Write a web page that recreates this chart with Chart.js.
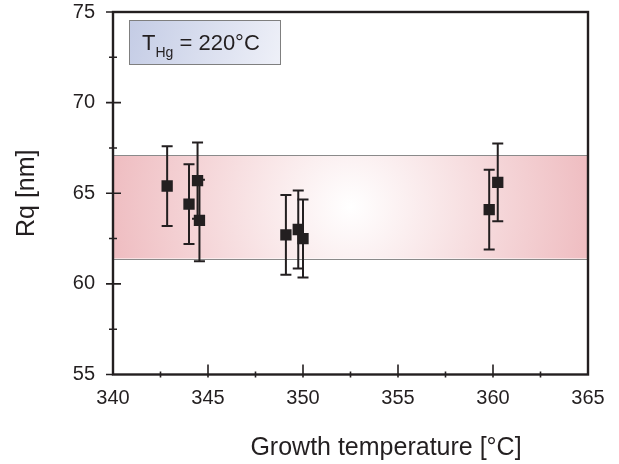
<!DOCTYPE html>
<html>
<head>
<meta charset="utf-8">
<script src="https://cdn.jsdelivr.net/npm/chart.js@4.4.0/dist/chart.umd.min.js"></script>
<style>
  html, body { margin: 0; padding: 0; background: #fff; }
</style>
</head>
<body>
<canvas id="rqChart" width="619" height="464"></canvas>
<script>
// Growth temperature [°C] vs. Rq [nm], with ±error
const temps = [342.85, 344.0, 344.45, 344.55, 349.1, 349.75, 350.0, 359.8, 360.25];
const rq    = [65.4, 64.4, 65.7, 63.5, 62.7, 63.0, 62.5, 64.1, 65.6];
const rqErr = [2.2, 2.2, 2.1, 2.25, 2.2, 2.15, 2.15, 2.2, 2.15];

// shaded band (low, high) in nm
const bandRange = [61.4, 67.1];

const xTicks = [340, 345, 350, 355, 360, 365];
const yTicks = [55, 60, 65, 70, 75];

const ink = "#231f20";
const font = "'Liberation Sans', Arial, sans-serif";

const bandPlugin = {
  id: "band",
  beforeDatasetsDraw(chart) {
    const { ctx, chartArea: area, scales: { x, y } } = chart;
    const top = y.getPixelForValue(bandRange[1]);
    const bottom = y.getPixelForValue(bandRange[0]);
    const cx = (area.left + area.right) / 2;
    const cy = (top + bottom) / 2;
    const g = ctx.createRadialGradient(cx, cy, 0, cx, cy, (area.right - area.left) / 2);
    g.addColorStop(0, "#ffffff");
    g.addColorStop(1, "#efbec2");
    ctx.save();
    ctx.fillStyle = g;
    ctx.fillRect(area.left, top, area.right - area.left, bottom - top);
    ctx.strokeStyle = "#8a8a8a";
    ctx.lineWidth = 1;
    ctx.beginPath();
    ctx.moveTo(area.left, Math.round(top) + 0.5);
    ctx.lineTo(area.right, Math.round(top) + 0.5);
    ctx.moveTo(area.left, Math.round(bottom) + 0.5);
    ctx.lineTo(area.right, Math.round(bottom) + 0.5);
    ctx.stroke();

    // error bars, behind the squares
    ctx.strokeStyle = ink;
    ctx.lineWidth = 2;
    temps.forEach((t, i) => {
      const px = x.getPixelForValue(t);
      const y1 = y.getPixelForValue(rq[i] + rqErr[i]);
      const y2 = y.getPixelForValue(rq[i] - rqErr[i]);
      ctx.beginPath();
      ctx.moveTo(px, y1);
      ctx.lineTo(px, y2);
      ctx.moveTo(px - 5.5, y1);
      ctx.lineTo(px + 5.5, y1);
      ctx.moveTo(px - 5.5, y2);
      ctx.lineTo(px + 5.5, y2);
      ctx.stroke();
    });
    ctx.restore();
  }
};

const framePlugin = {
  id: "frame",
  afterDatasetsDraw(chart) {
    const { ctx, chartArea: area, scales: { x, y } } = chart;
    ctx.save();
    ctx.strokeStyle = ink;
    ctx.lineWidth = 2.4;
    ctx.strokeRect(area.left, area.top, area.right - area.left, area.bottom - area.top);

    // tick marks: major ones cross the axis, minor ones are short
    ctx.lineWidth = 1.6;
    ctx.beginPath();
    y.ticks.forEach((t) => {
      const py = y.getPixelForValue(t.value);
      const major = t.value % 5 === 0;
      if (t.value === 55 || t.value === 75) {
        ctx.moveTo(area.left - 7, py);
        ctx.lineTo(area.left, py);
        return;
      }
      ctx.moveTo(area.left - (major ? 7 : 4), py);
      ctx.lineTo(area.left + (major ? 8 : 4), py);
    });
    x.ticks.forEach((t) => {
      if (t.value === 340 || t.value === 365) return;
      const px = x.getPixelForValue(t.value);
      const major = t.value % 5 === 0;
      ctx.moveTo(px, area.bottom - (major ? 10 : 3));
      ctx.lineTo(px, area.bottom + 3);
    });
    ctx.stroke();
    ctx.restore();
  },
  afterDraw(chart) {
    const { ctx } = chart;
    ctx.save();
    // condition box
    const bx = 129, by = 20, bw = 151, bh = 44;
    const g = ctx.createLinearGradient(bx, by, bx + bw, by + bh);
    g.addColorStop(0, "#c4cce5");
    g.addColorStop(1, "#eef0f8");
    ctx.fillStyle = g;
    ctx.fillRect(bx, by, bw, bh);
    ctx.strokeStyle = "#7f7f7f";
    ctx.lineWidth = 1;
    ctx.strokeRect(bx + 0.5, by + 0.5, bw, bh);

    ctx.fillStyle = ink;
    ctx.textBaseline = "alphabetic";
    ctx.textAlign = "left";
    let tx = 142;
    ctx.font = "22px " + font;
    ctx.fillText("T", tx, 50);
    tx += ctx.measureText("T").width;
    ctx.font = "14px " + font;
    ctx.fillText("Hg", tx, 57);
    tx += ctx.measureText("Hg").width;
    ctx.font = "22px " + font;
    ctx.fillText(" = 220°C", tx, 50);

    // x axis title
    ctx.font = "25px " + font;
    ctx.textAlign = "center";
    ctx.textBaseline = "middle";
    ctx.fillText("Growth temperature [°C]", 386, 448);
    ctx.restore();
  }
};

new Chart(document.getElementById("rqChart"), {
  type: "scatter",
  data: {
    datasets: [
      {
        label: "Rq",
        data: temps.map((t, i) => ({ x: t, y: rq[i] })),
        pointStyle: "rect",
        pointRadius: 8,
        pointHoverRadius: 8,
        backgroundColor: ink,
        borderColor: ink,
        borderWidth: 0
      }
    ]
  },
  options: {
    responsive: false,
    animation: false,
    events: [],
    layout: { padding: { top: 12, right: 31, left: 0, bottom: 0 } },
    plugins: {
      legend: { display: false },
      tooltip: { enabled: false }
    },
    scales: {
      x: {
        type: "linear",
        min: xTicks[0],
        max: xTicks[xTicks.length - 1],
        afterFit: (scale) => {
          scale.height = 89.5;
          scale.paddingLeft = 0;
          scale.paddingRight = 0;
        },
        grid: { display: false, drawTicks: false },
        border: { display: false },
        ticks: {
          stepSize: 2.5,
          autoSkip: false,
          maxRotation: 0,
          padding: 12,
          color: ink,
          font: { family: font, size: 20 },
          callback: (v) => (xTicks.includes(v) ? v : "")
        }
      },
      y: {
        type: "linear",
        min: yTicks[0],
        max: yTicks[yTicks.length - 1],
        afterFit: (scale) => {
          scale.width = 113;
          scale.paddingTop = 0;
          scale.paddingBottom = 0;
        },
        grid: { display: false, drawTicks: false },
        border: { display: false },
        ticks: {
          stepSize: 2.5,
          autoSkip: false,
          padding: 18,
          color: ink,
          font: { family: font, size: 20 },
          callback: (v) => (yTicks.includes(v) ? v : "")
        },
        title: {
          display: true,
          text: "Rq [nm]",
          color: ink,
          font: { family: font, size: 25 },
          padding: { top: 12, bottom: 0 }
        }
      }
    }
  },
  plugins: [bandPlugin, framePlugin]
});
</script>
</body>
</html>
